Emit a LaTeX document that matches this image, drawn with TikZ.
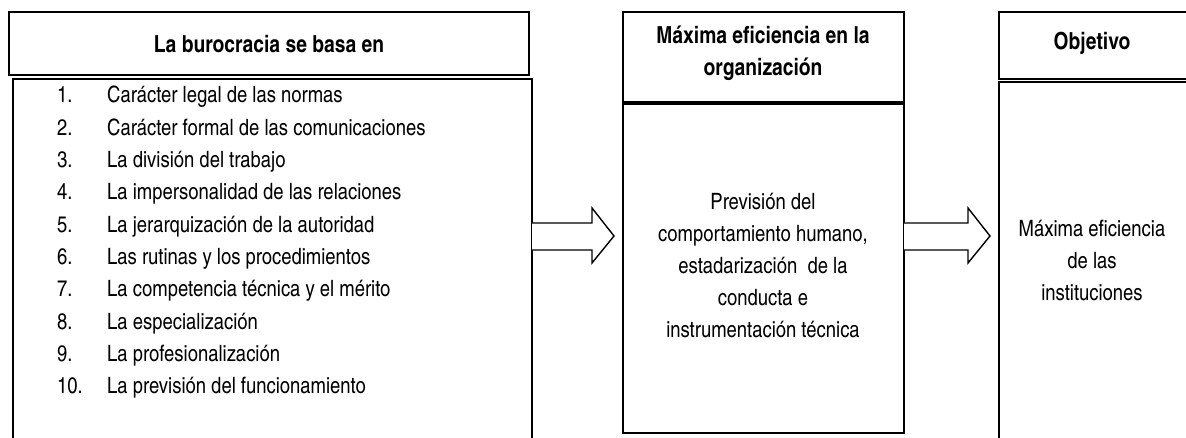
\documentclass[tikz,border=0pt]{standalone}
\usepackage{fontspec}
\setmainfont{TeX Gyre Heros Cn}
\usetikzlibrary{calc}
\begin{document}
\begin{tikzpicture}[x=1pt,y=1pt,
  box/.style={draw=black,line width=1.6pt,fill=white,inner sep=0pt,outer sep=0pt},
  head/.style={font=\fontsize{23.5}{32}\selectfont\bfseries,align=center,inner sep=0pt},
  body/.style={font=\fontsize{22.5}{32}\selectfont,align=center,inner sep=0pt},
  item/.style={font=\fontsize{22.5}{26}\selectfont,anchor=base west,inner sep=0pt},
  fatarrow/.style={draw=black,line width=1.4pt,fill=white,line join=miter}]
\path[use as bounding box,fill=white] (0,0) rectangle (1186,437);
\begin{scope}
\path[clip] (0,0) rectangle (1186,437);
% left column
\node[box,minimum width=520,minimum height=63] (basehead) at (269,393.5) {};
\node[box,minimum width=519,minimum height=361,anchor=north west] (basebody) at (13,358) {};
\node[head] (basetitle) at (269,393) {La burocracia se basa en};
\foreach \n/\txt [count=\i] in {1./Carácter legal de las normas,
    2./Carácter formal de las comunicaciones,
    3./La división del trabajo,
    4./La impersonalidad de las relaciones,
    5./La jerarquización de la autoridad,
    6./Las rutinas y los procedimientos,
    7./La competencia técnica y el mérito,
    8./La especialización,
    9./La profesionalización,
    10./La previsión del funcionamiento}{
  \node[item] (num\i) at (57,{334-(\i-1)*32.3}) {\n};
  \node[item] (txt\i) at (107,{334-(\i-1)*32.3}) {\txt};
}
% middle column
\node[box,line width=1.3pt,minimum width=281,minimum height=91,anchor=north west] (effhead) at (623,425) {};
\node[box,line width=1.3pt,minimum width=281,minimum height=330,anchor=north west] (effbody) at (623,334) {};
\draw[line width=3.4pt] (effbody.north west) -- (effbody.north east);
\node[head] (efftitle) at (763,384) {Máxima eficiencia en la\\organización};
\node[body] (efftext) at (763,171) {Previsión del\\comportamiento humano,\\estadarización\ \ de la\\conducta e\\instrumentación técnica};
% right column
\node[box,line width=1.3pt,minimum width=200,minimum height=67,anchor=north west] (objhead) at (999,425) {};
\node[box,line width=1.3pt,minimum width=200,minimum height=360,anchor=north west] (objbody) at (999,355) {};
\node[head] (objtitle) at (1092,394) {Objetivo};
\node[body] (objtext) at (1092,177) {Máxima eficiencia\\de las\\instituciones};
% block arrows
\foreach \a/\b in {basebody/effbody,effbody/objbody}{
  \draw[fatarrow] let \p1=(\a.east), \p2=(\b.west) in
    (\x1,187) -- (\x2-31,187) -- (\x2-31,174) -- (\x2-9,201)
    -- (\x2-31,229) -- (\x2-31,214) -- (\x1,214);
}
\end{scope}
\end{tikzpicture}
\end{document}
